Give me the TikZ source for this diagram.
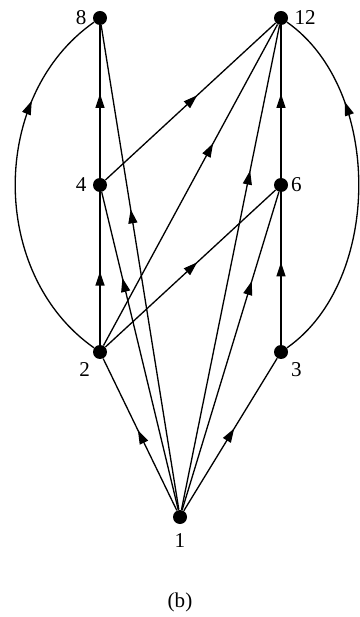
\documentclass[tikz,border=0pt]{standalone}
\usepackage{fontspec}
\setmainfont{Liberation Serif}
\usetikzlibrary{arrows.meta, decorations.markings}
\tikzset{
  vtx/.style={circle, fill=black, inner sep=0pt, minimum size=0.28cm},
  link/.style={line width=0.75pt, postaction={decorate},
    decoration={markings, mark=at position #1 with {\arrow{Triangle[length=2.8mm,width=1.8mm]}}}},
  link/.default=0.55,
}

\begin{document}
\begin{tikzpicture}[x=0.02cm, y=-0.02cm, font=\fontsize{12}{14}\selectfont]
    \useasboundingbox (0,0) rectangle (359,617);

    % vertices
    \node[vtx, label={left:8}] (n8) at (100,18) {};
    \node[vtx, label={right:12}] (n12) at (281,18) {};
    \node[vtx, label={left:4}] (n4) at (100,185) {};
    \node[vtx, label={[label distance=-2pt]right:6}] (n6) at (281,185) {};
    \node[vtx, label={[label distance=-1pt]below left:2}] (n2) at (100,352) {};
    \node[vtx, label={[label distance=-1pt]below right:3}] (n3) at (281,352) {};
    \node[vtx, label={[label distance=2pt]below:1}] (n1) at (180,517) {};
    \node (cap) at (180,602) {(b)};

    % edges out of 1
    \draw[link=0.53] (n1) -- (n2);
    \draw[link=0.54] (n1) -- (n3);
    \draw[link=0.73] (n1) -- (n4);
    \draw[link=0.72] (n1) -- (n6);
    \draw[link=0.62] (n1) -- (n8);
    \draw[link=0.70] (n1) -- (n12);

    % edges out of 2 and 3
    \draw[link=0.48] (n2) -- (n4);
    \draw[link=0.54] (n2) -- (n6);
    \draw[link=0.63] (n2) -- (n12);
    \draw[link=0.73] (n2) to[bend left=55, looseness=1.01] (n8);
    \draw[link=0.54] (n3) -- (n6);
    \draw[link=0.73] (n3) to[bend right=55, looseness=0.92] (n12);

    % edges out of 4 and 6
    \draw[link=0.55] (n4) -- (n8);
    \draw[link=0.54] (n4) -- (n12);
    \draw[link=0.55] (n6) -- (n12);
\end{tikzpicture}
\end{document}
